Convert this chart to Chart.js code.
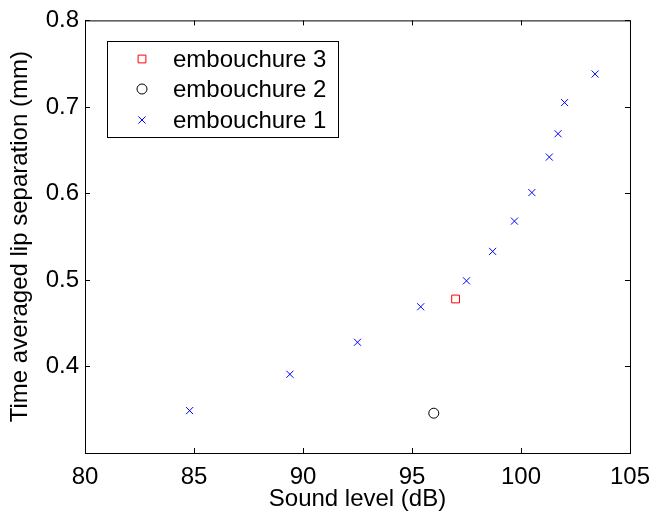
<!DOCTYPE html>
<html>
<head>
<meta charset="utf-8">
<script src="https://cdn.jsdelivr.net/npm/chart.js@4"></script>
<style>
  html, body { margin: 0; padding: 0; background: #fff; }
  #wrap { width: 660px; height: 517px; }
</style>
</head>
<body>
<div id="wrap"><canvas id="chart-1"></canvas></div>
<script>
// values
const emb1X = [84.8, 89.4, 92.5, 95.4, 97.5, 98.7, 99.7, 100.5, 101.3, 101.7, 102.0, 103.4];
const emb1Y = [0.349, 0.391, 0.428, 0.469, 0.499, 0.533, 0.568, 0.601, 0.642, 0.669, 0.705, 0.738];
const emb2X = [96.0];
const emb2Y = [0.346];
const emb3X = [97.0];
const emb3Y = [0.478];
const xTicks = [80, 85, 90, 95, 100, 105];
const yTicks = [0.3, 0.4, 0.5, 0.6, 0.7, 0.8];

const FONT = { family: "'Liberation Sans', Arial, sans-serif", size: 24 };

function pts(xs, ys) {
    return xs.map((x, i) => ({ x: x, y: ys[i] }));
}

// matlab style box, inward ticks and the legend inside the axes
const boxPlugin = {
    id: 'boxPlugin',
    afterDraw(chart) {
        const ctx = chart.ctx;
        const a = chart.chartArea;
        const sx = chart.scales.x, sy = chart.scales.y;
        ctx.save();
        ctx.strokeStyle = '#000';
        ctx.lineWidth = 1;
        ctx.strokeRect(a.left + 0.5, a.top + 0.5, a.right - a.left, a.bottom - a.top);
        ctx.beginPath();
        xTicks.forEach(v => {
            const px = Math.round(sx.getPixelForValue(v)) + 0.5;
            ctx.moveTo(px, a.bottom); ctx.lineTo(px, a.bottom - 5);
            ctx.moveTo(px, a.top); ctx.lineTo(px, a.top + 5);
        });
        yTicks.forEach(v => {
            const py = Math.round(sy.getPixelForValue(v)) + 0.5;
            ctx.moveTo(a.left, py); ctx.lineTo(a.left + 5, py);
            ctx.moveTo(a.right, py); ctx.lineTo(a.right - 5, py);
        });
        ctx.stroke();

        // legend
        const lx = 107.5, ly = 41.5, lw = 231, lh = 96;
        ctx.fillStyle = '#fff';
        ctx.fillRect(lx, ly, lw, lh);
        ctx.strokeRect(lx, ly, lw, lh);
        ctx.font = FONT.size + 'px ' + FONT.family;
        ctx.textBaseline = 'middle';
        ctx.textAlign = 'left';
        const rows = [59, 89, 120];
        chart.data.datasets.forEach((ds, i) => {
            ctx.strokeStyle = ds.borderColor;
            ctx.fillStyle = 'rgba(0,0,0,0)';
            ctx.lineWidth = 1;
            Chart.helpers.drawPoint(ctx, {
                pointStyle: ds.pointStyle,
                radius: ds.pointRadius,
                borderWidth: 1
            }, 142, rows[i]);
            ctx.fillStyle = '#000';
            ctx.fillText(ds.label, 173, rows[i] + 1);
        });
        ctx.restore();
    }
};

const ctx1 = document.getElementById('chart-1').getContext('2d');
const myChart = new Chart(ctx1, {
    type: 'scatter',
    data: {
        datasets: [
            {
                label: 'embouchure 3',
                data: pts(emb3X, emb3Y),
                pointStyle: 'rect',
                pointRadius: 5.5,
                borderColor: 'rgb(255, 0, 0)',
                backgroundColor: 'rgba(0,0,0,0)',
                borderWidth: 1,
            },
            {
                label: 'embouchure 2',
                data: pts(emb2X, emb2Y),
                pointStyle: 'circle',
                pointRadius: 5,
                borderColor: 'rgb(0, 0, 0)',
                backgroundColor: 'rgba(0,0,0,0)',
                borderWidth: 1,
            },
            {
                label: 'embouchure 1',
                data: pts(emb1X, emb1Y),
                pointStyle: 'crossRot',
                pointRadius: 5,
                borderColor: 'rgb(0, 0, 255)',
                backgroundColor: 'rgba(0,0,0,0)',
                borderWidth: 1,
            },
        ],
    },
    options: {
        responsive: true,
        maintainAspectRatio: false,
        animation: false,
        events: [],
        layout: { padding: { top: 17, right: 23, left: 0, bottom: 0 } },
        plugins: {
            legend: { display: false },
            tooltip: { enabled: false },
        },
        scales: {
            x: {
                type: 'linear',
                min: 80,
                max: 105,
                afterFit: s => { s.height = 64; },
                afterBuildTicks: s => { s.ticks = xTicks.map(v => ({ value: v })); },
                grid: { display: false, drawTicks: false },
                border: { display: false },
                ticks: { color: '#000', font: FONT, padding: 10, maxRotation: 0 },
                title: {
                    display: true,
                    text: 'Sound level (dB)',
                    color: '#000',
                    font: FONT,
                    padding: { top: 0, bottom: 3 },
                },
            },
            y: {
                type: 'linear',
                min: 0.3,
                max: 0.8,
                afterFit: s => { s.width = 85; },
                afterBuildTicks: s => { s.ticks = yTicks.map(v => ({ value: v })); },
                grid: { display: false, drawTicks: false },
                border: { display: false },
                ticks: {
                    color: '#000',
                    font: FONT,
                    padding: 6,
                    callback: v => (v < 0.35 ? '' : v.toFixed(1)),
                },
                title: {
                    display: true,
                    text: 'Time averaged lip separation (mm)',
                    color: '#000',
                    font: FONT,
                    padding: { top: 6, bottom: 0 },
                },
            },
        },
    },
    plugins: [boxPlugin],
});
</script>
</body>
</html>
